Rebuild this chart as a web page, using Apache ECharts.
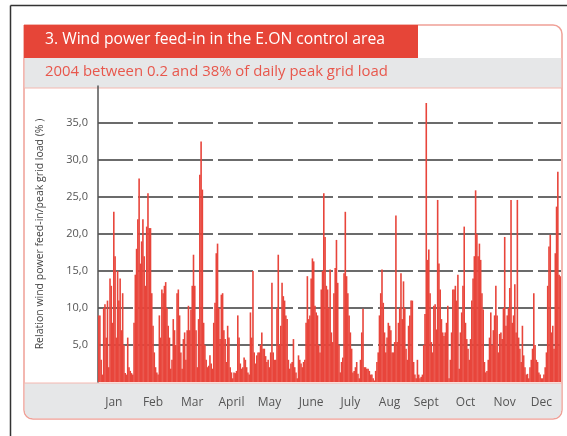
<!DOCTYPE html>
<html>
<head>
<meta charset="utf-8">
<script src="https://cdn.jsdelivr.net/npm/echarts@6/dist/echarts.min.js"></script>
<style>
html, body { margin: 0; padding: 0; background: #fff; }
#chart { width: 567px; height: 436px; }
</style>
</head>
<body>
<div id="chart"></div>
<script>
// daily wind feed-in, % of daily peak grid load, 2004 (leap year)
var jan = [9, 9, 3, 1, 10, 10.5, 6, 11, 2, 14, 13, 8, 23, 17, 6, 15, 11, 14, 7, 12, 5, 1.2, 1, 6, 2, 1.5, 1.2, 1, 8, 14.5, 18];
var feb = [22, 27.5, 16, 19, 22, 17, 13, 21, 25.5, 20.8, 20.8, 12, 7.6, 4, 2, 1.3, 1, 9, 6, 12.5, 12, 13, 13.5, 10, 7.6, 6, 1.8, 3, 8.5];
var mar = [7, 5, 12, 12.5, 9, 4, 1.8, 5.8, 6.7, 3, 7, 10.3, 7, 9.8, 13, 17.2, 13, 7, 2, 8.5, 28, 32.5, 26, 8, 5, 3, 2, 2.2, 3.6, 2.5, 1.8];
var apr = [8, 10.7, 17.4, 18.7, 10, 5.8, 11.8, 12, 7, 5.8, 2.7, 7.6, 6, 2, 1.3, 0.5, 1.3, 1.2, 1.5, 9, 6, 2.5, 1.8, 2, 3.3, 3, 2, 1.3, 1, 9.4];
var may = [6, 15, 4, 2.5, 3.6, 4, 4, 5, 6.7, 4.5, 4.5, 3.5, 2.7, 3, 2, 4, 13.4, 4, 3, 3, 10, 17.2, 5, 7.6, 13.4, 11.6, 11, 9, 8.5, 3, 1.8];
var jun = [2.5, 2.7, 5.8, 2, 1.3, 0.5, 3.6, 3, 2.5, 2, 2.7, 3, 8, 14.3, 8.5, 9, 14, 16.7, 16.3, 10.3, 9.4, 9, 5, 4, 12.5, 15, 25.5, 19.6, 13, 12.5];
var jul = [10, 15.2, 6.7, 5.4, 12, 15.4, 19.2, 13.4, 5, 1.3, 2.7, 3.3, 14.7, 23, 14.3, 12, 9, 6.7, 4.5, 1.3, 1.5, 2, 2.7, 1.1, 0.5, 3, 6.7, 9.9, 2, 2, 1.8];
var aug = [1.8, 1.5, 1, 1, 0.5, 0.2, 1.5, 2.7, 4, 9, 12, 15.2, 10.7, 6.7, 4, 6, 8, 7.6, 7, 4, 4, 5.4, 22.5, 5.4, 8, 10, 14.7, 8.5, 13.6, 10, 4.5];
var sep = [3, 7.6, 9, 11, 11, 2.7, 1, 0.5, 3, 1, 0.5, 0.7, 1, 5, 9.2, 37.7, 16.5, 17.9, 12, 5.4, 4, 10.3, 10.5, 7.1, 24.6, 16, 12.5, 8.5, 6.7, 6.2];
var oct = [6.7, 8, 10.3, 0.5, 3, 6.7, 12.5, 12.5, 13, 11, 14.5, 1.8, 6.7, 9.4, 13, 21, 8, 5.8, 4.5, 3, 5.8, 11, 14, 17, 25.9, 20, 17, 18.7, 16.5, 12, 9.8];
var nov = [2.7, 1.3, 1.5, 3, 6, 9.4, 5, 7, 9, 13, 9, 4, 6.5, 6.7, 5.8, 10, 19.6, 7.6, 9, 10, 12.7, 24.6, 8, 9, 13.2, 6.7, 24.6, 6, 4.5, 2.7];
var dec = [7.6, 3.6, 2, 1, 1.1, 0.5, 2, 3, 4.5, 12, 5, 3, 2.7, 1.3, 1, 0.5, 0.5, 1, 2, 4, 13, 18.3, 19.9, 6.7, 7.6, 4.5, 17.4, 23.7, 28.4, 14.5, 14.3];

var monthNames = ['Jan', 'Feb', 'Mar', 'April', 'May', 'June', 'July', 'Aug', 'Sept', 'Oct', 'Nov', 'Dec'];
// day index under each month label
var monthLabelDays = [12, 43, 74, 105, 135, 168, 199, 230, 259, 290, 321, 350];

var feedIn = [].concat(jan, feb, mar, apr, may, jun, jul, aug, sep, oct, nov, dec);
var days = feedIn.map(function (v, i) { return String(i + 1); });

var chart = echarts.init(document.getElementById('chart'));

chart.setOption({
    animation: false,
    title: [
        {
            text: '3. Wind power feed-in in the E.ON control area',
            left: 45, top: 32, padding: 0,
            textStyle: { color: '#fff', fontSize: 15.7, fontWeight: 'normal', fontFamily: 'Open Sans' }
        },
        {
            text: '2004 between 0.2 and 38% of daily peak grid load',
            left: 45, top: 64, padding: 0,
            textStyle: { color: '#e8574c', fontSize: 14.9, fontWeight: 'normal', fontFamily: 'Open Sans' }
        }
    ],
    graphic: [
        // outer frame
        { type: 'line', z: -5, shape: { x1: 10.5, y1: 5.5, x2: 567, y2: 5.5 }, style: { stroke: '#333', lineWidth: 1.5 } },
        { type: 'line', z: -5, shape: { x1: 10.5, y1: 5.5, x2: 10.5, y2: 436 }, style: { stroke: '#333', lineWidth: 1.5 } },
        // card
        { type: 'rect', z: -5, shape: { x: 24, y: 25, width: 538, height: 394, r: [0, 9, 9, 9] },
          style: { fill: '#fff', stroke: '#f0a097', lineWidth: 1.5 } },
        { type: 'rect', z: -4, shape: { x: 24.7, y: 58, width: 536.6, height: 30 }, style: { fill: '#e6e7e8' } },
        { type: 'rect', z: -4, shape: { x: 24.7, y: 383, width: 536.6, height: 35.3, r: [0, 0, 8, 8] }, style: { fill: '#e6e7e8' } },
        { type: 'line', z: -3, shape: { x1: 24, y1: 88, x2: 562, y2: 88 }, style: { stroke: '#f4b8b0', lineWidth: 1 } },
        { type: 'line', z: -3, shape: { x1: 24, y1: 383, x2: 562, y2: 383 }, style: { stroke: '#f4b8b0', lineWidth: 1 } },
        { type: 'rect', z: -3, shape: { x: 24, y: 25, width: 394, height: 33 }, style: { fill: '#e64538' } }
    ],
    grid: { left: 98, right: 6, top: 86, bottom: 54 },
    xAxis: {
        type: 'category',
        data: days,
        axisLine: { show: false },
        axisTick: { show: false },
        axisLabel: {
            interval: function (index) { return monthLabelDays.indexOf(index) >= 0; },
            formatter: function (value, index) { return monthNames[monthLabelDays.indexOf(index)]; },
            margin: 15,
            color: '#555',
            fontSize: 12,
            fontFamily: 'Open Sans'
        }
    },
    yAxis: {
        type: 'value',
        min: 0, max: 40, interval: 5,
        name: 'Relation wind power feed-in/peak grid load (% )',
        nameLocation: 'middle',
        nameGap: 52,
        nameTextStyle: { color: '#444', fontSize: 10.5, fontFamily: 'Open Sans' },
        axisLine: { show: true, lineStyle: { color: '#555', width: 1.5 } },
        axisTick: { show: false },
        axisLabel: {
            margin: 10,
            color: '#555',
            fontSize: 11,
            fontFamily: 'Open Sans',
            formatter: function (v) { return (v === 0 || v === 40) ? '' : v.toFixed(1).replace('.', ','); }
        },
        splitLine: {
            show: true,
            showMinLine: false,
            showMaxLine: false,
            lineStyle: { color: '#6b6b6b', width: 2, type: [35, 5] }
        }
    },
    series: [{
        type: 'bar',
        data: feedIn,
        barWidth: 1.6,
        itemStyle: { color: '#e8453b' }
    }]
});
</script>
</body>
</html>
